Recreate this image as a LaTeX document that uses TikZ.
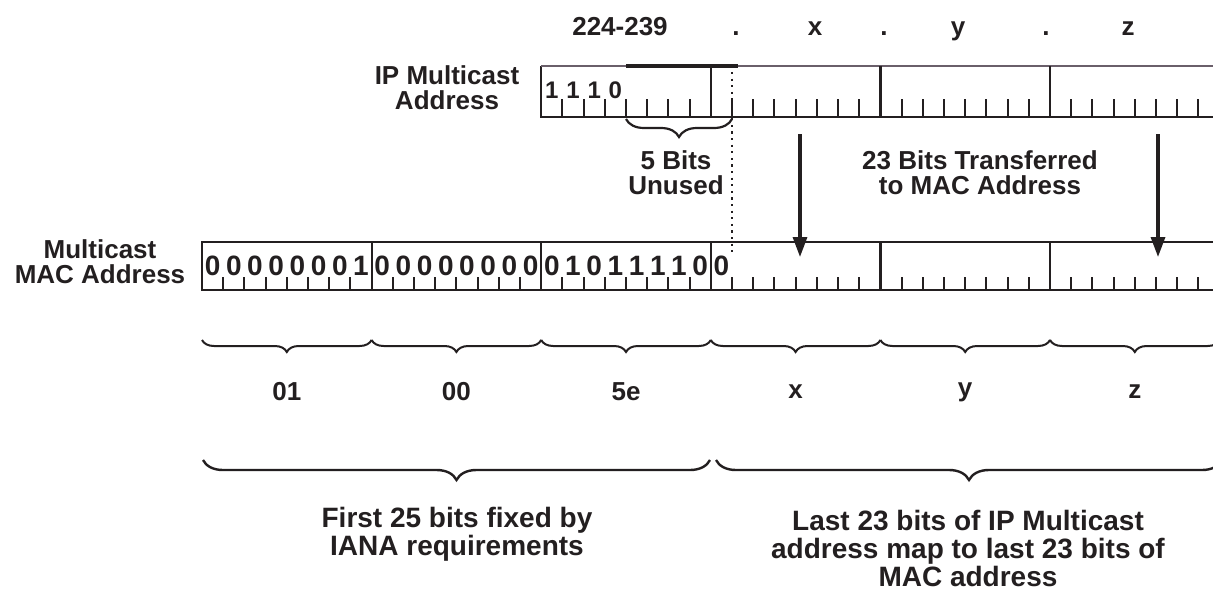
\documentclass[tikz,border=0pt]{standalone}
\usepackage{fontspec}
\setmainfont{Liberation Sans}
\usetikzlibrary{decorations.pathreplacing,arrows.meta}
\definecolor{ink}{HTML}{231F20}
\definecolor{greyline}{HTML}{6A5F6A}
\begin{document}
\begin{tikzpicture}[x=0.5pt,y=-0.5pt,
  lbl/.style={font=\fontsize{13}{12.5}\selectfont\bfseries, text=ink, align=center, inner sep=0pt},
  bot/.style={font=\fontsize{14}{14}\selectfont\bfseries, text=ink, align=center, inner sep=0pt},
  macdig/.style={font=\fontsize{14}{14}\selectfont\bfseries, text=ink, inner sep=0pt},
  ipdig/.style={font=\fontsize{12}{12}\selectfont\bfseries, text=ink, inner sep=0pt},
  boxline/.style={draw=ink, line width=1.1pt},
  topline/.style={draw=greyline, line width=1pt},
  hiline/.style={draw=ink, line width=1.6pt},
  tickline/.style={draw=ink, line width=1pt},
  dotline/.style={draw=ink, line width=1.1pt, dash pattern=on 1.1pt off 2.2pt},
  bigarrow/.style={draw=ink, line width=1.6pt, -{Triangle[length=10pt,width=7pt]}},
  octbrace/.style={draw=ink, line width=1pt, decorate, decoration={brace, mirror, amplitude=6pt}},
  midbrace/.style={draw=ink, line width=1.1pt, decorate, decoration={brace, mirror, amplitude=9pt}},
  wbrace/.style={draw=ink, line width=1.2pt, decorate, decoration={brace, mirror, amplitude=10pt}}
]
\useasboundingbox (0,0) rectangle (1213,599);
\clip (0,0) rectangle (1213,599);

% ---------- top labels ----------
\node[lbl, anchor=base] (t224) at (620,36) {224-239};
\node[lbl, anchor=base] (td1) at (736,36) {.};
\node[lbl, anchor=base] (tx) at (815,36) {x};
\node[lbl, anchor=base] (td2) at (884,36) {.};
\node[lbl, anchor=base] (ty) at (958,36) {y};
\node[lbl, anchor=base] (td3) at (1046,36) {.};
\node[lbl, anchor=base] (tz) at (1128,36) {z};

% ---------- IP multicast address box ----------
\node[lbl] (iplbl) at (447,88) {IP Multicast\\Address};
\draw[boxline] (541.2,66) -- (541.2,117) -- (1240,117);
\draw[topline] (541.2,66) -- (626,66);
\draw[topline] (738,66) -- (1240,66);
\draw[hiline] (626,66) -- (738,66);
\foreach \k in {1,2,3,4} {
  \draw[boxline] ({541.2+169.6*\k},66) -- ({541.2+169.6*\k},117);
}
\foreach \i in {1,...,31} {
  \pgfmathtruncatemacro{\r}{mod(\i,8)}
  \ifnum\r>0
    \draw[tickline] ({541.2+21.2*\i},117) -- ({541.2+21.2*\i},99);
  \fi
}
\foreach \d [count=\i from 0] in {1,1,1,0} {
  \node[ipdig] (ip\i) at ({541.2+21.2*(\i+0.5)},90) {\d};
}

% dotted line at bit 25 / bit 9
\coordinate (dtop) at (732,72);
\coordinate (dbot) at (732,256);
\draw[dotline] (dtop) -- (dbot);

% 5 bits unused brace
\coordinate (ubl) at (626,119);
\coordinate (ubr) at (732,119);
\draw[midbrace] (ubl) -- (ubr);
\node[lbl] (unused) at (676,173) {5 Bits\\Unused};
\node[lbl] (transf) at (980,173) {23 Bits Transferred\\to MAC Address};

% arrows
\coordinate (a1s) at (800,134);
\coordinate (a1e) at (800,257);
\coordinate (a2s) at (1158,134);
\coordinate (a2e) at (1158,257);
\draw[bigarrow] (a1s) -- (a1e);
\draw[bigarrow] (a2s) -- (a2e);

% ---------- MAC address box ----------
\node[lbl] (maclbl) at (100,262) {Multicast\\MAC Address};
\draw[boxline] (1240,242) -- (202,242) -- (202,290) -- (1240,290);
\foreach \k in {1,...,6} {
  \draw[boxline] ({202+169.6*\k},242) -- ({202+169.6*\k},290);
}
\foreach \i in {1,...,49} {
  \pgfmathtruncatemacro{\r}{mod(\i,8)}
  \ifnum\r>0
    \draw[tickline] ({202+21.2*\i},290) -- ({202+21.2*\i},277);
  \fi
}
\foreach \d [count=\i from 0] in {0,0,0,0,0,0,0,1,0,0,0,0,0,0,0,0,0,1,0,1,1,1,1,0,0} {
  \node[macdig] (mac\i) at ({202+21.2*(\i+0.5)},266) {\d};
}

% ---------- octet braces ----------
\foreach \k in {0,...,6} {
  \draw[octbrace] ({202+169.6*\k},340) -- ({202+169.6*(\k+1)},340);
}
\foreach \t [count=\k from 0] in {01,00,5e,x,y,z} {
  \node[lbl] (oct\k) at ({286.8+169.6*\k},392) {\t};
}

% ---------- big braces ----------
\coordinate (b1l) at (203,460);
\coordinate (b1r) at (710,460);
\coordinate (b2l) at (716,460);
\coordinate (b2r) at (1222,460);
\draw[wbrace] (b1l) -- (b1r);
\draw[wbrace] (b2l) -- (b2r);
\node[bot] (first) at (457,534) {First 25 bits fixed by\\IANA requirements};
\node[bot] (last) at (968,548) {Last 23 bits of IP Multicast\\address map to last 23 bits of\\MAC address};
\end{tikzpicture}
\end{document}
